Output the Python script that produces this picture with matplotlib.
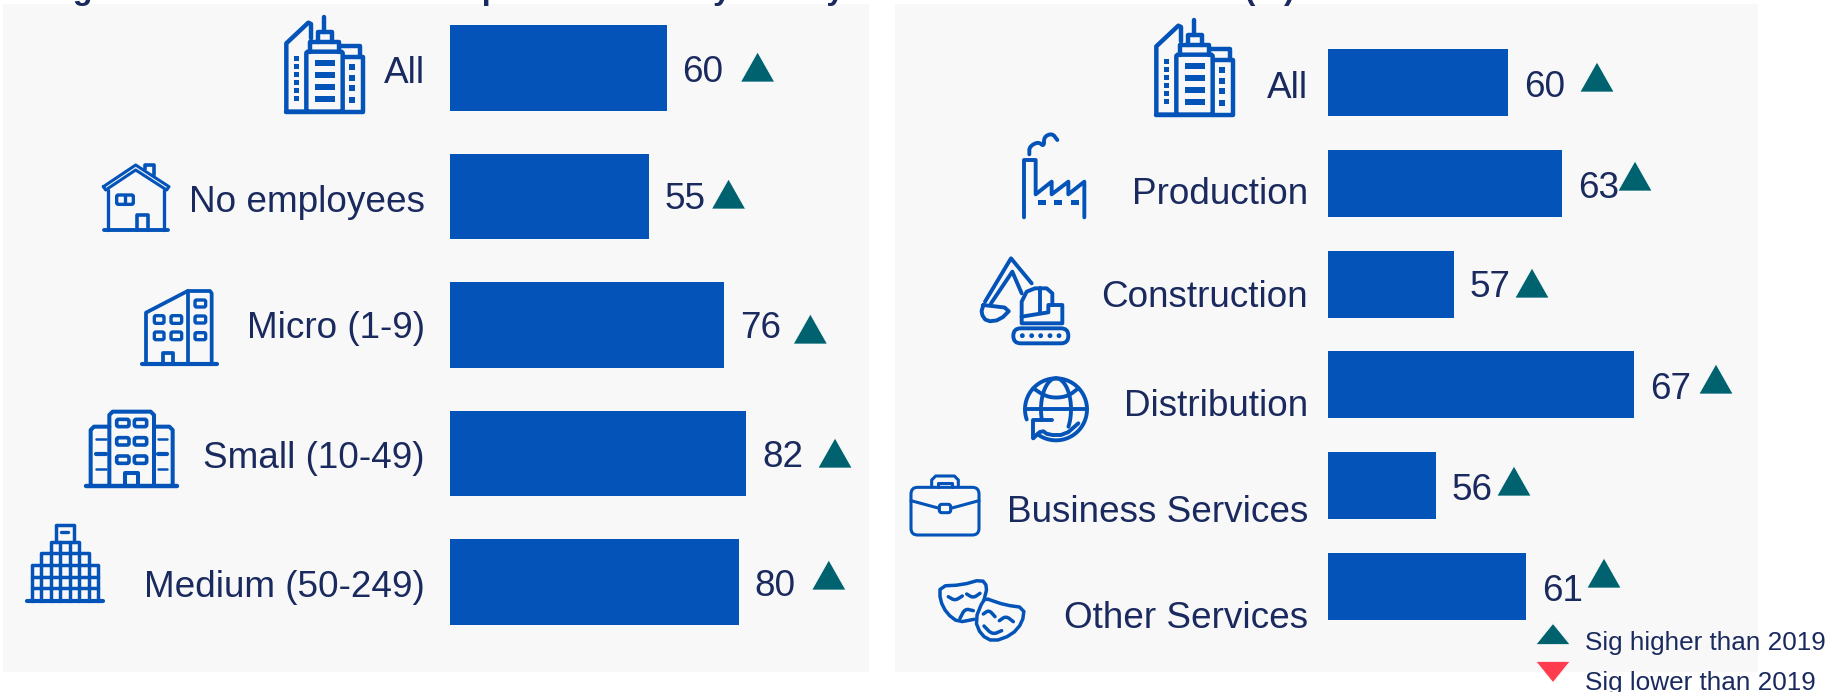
import numpy as np
import matplotlib
matplotlib.use("Agg")
import matplotlib.pyplot as plt
from matplotlib.patches import Polygon, Rectangle, FancyBboxPatch, Circle

plt.rcParams["font.family"] = ["Liberation Sans", "DejaVu Sans"]

# data
title = "Sought external finance in the previous three years by business size and sector (%)"
size_labels = ["All", "No employees", "Micro (1-9)", "Small (10-49)", "Medium (50-249)"]
size_values = [60, 55, 76, 82, 80]
sector_labels = ["All", "Production", "Construction", "Distribution", "Business Services", "Other Services"]
sector_values = [60, 63, 57, 67, 56, 61]
legend_labels = ["Sig higher than 2019", "Sig lower than 2019"]

# hand placed layout of the slide, in pixels from top left
size_label_base = [82.7, 211.7, 337.7, 468.5, 597]
size_value_base = [81.7, 209, 338, 466.7, 596]
size_tri_gap = [91, 80, 86, 89, 90]
size_tri_top = [52, 179, 314, 438, 560]
sector_label_base = [97.7, 204, 306.7, 415.7, 521.7, 627.8]
sector_value_base = [96.7, 198.3, 297.3, 399, 500, 601]
sector_tri_gap = [89, 73, 78, 82, 78, 78]
sector_tri_top = [62, 161, 268, 364, 466, 558]

BAR = "#0353B8"
NAVY = "#1A2A5E"
TEAL = "#00626E"
RED = "#FF3B4E"
PANEL = "#F8F8F8"
W, H = 1831, 692
FS = 26.6

fig = plt.figure(figsize=(W / 100, H / 100), dpi=100)


def full_axes(z):
    a = fig.add_axes([0, 0, 1, 1], zorder=z)
    a.set_xlim(0, W)
    a.set_ylim(H, 0)
    a.axis("off")
    a.patch.set_alpha(0)
    return a


def bar_axes(x0, x1, y0, y1, c0, step, xmin, xmax):
    a = fig.add_axes([x0 / W, 1 - y1 / H, (x1 - x0) / W, (y1 - y0) / H], zorder=1)
    a.set_xlim(xmin, xmax)
    a.set_ylim((y1 - c0) / step, (y0 - c0) / step)
    a.axis("off")
    a.patch.set_alpha(0)
    return a


bg = full_axes(0)
ov = full_axes(2)
bg.add_patch(Rectangle((3, 4), 866, 668, fc=PANEL, ec="none"))
bg.add_patch(Rectangle((895, 4), 863, 668, fc=PANEL, ec="none"))

ax1 = bar_axes(450, 869, 4, 672, 67.8, 128.6, 0, 419 / 3.61)
ax2 = bar_axes(1328, 1758, 4, 672, 82.8, 100.7, 50, 50 + 430 / 18)


def triangle(cx, top, w=34, h=30, color=TEAL, down=False):
    if down:
        pts = [(cx - w / 2, top), (cx + w / 2, top), (cx, top + h)]
    else:
        pts = [(cx - w / 2, top + h), (cx + w / 2, top + h), (cx, top)]
    ov.add_patch(Polygon(pts, closed=True, fc=color, ec="white", lw=0.5))


def draw_panel(ax, labels, values, label_base, value_base, tri_gap, tri_top, label_right):
    ys = np.arange(len(values))
    x0 = ax.get_xlim()[0]
    ax.barh(ys, np.array(values) - x0, left=x0, height=0.665, color=BAR)
    for i, v in enumerate(values):
        end = ov.transData.inverted().transform(ax.transData.transform((v, 0)))[0]
        ov.text(label_right, label_base[i], labels[i], ha="right", va="baseline", fontsize=FS, color=NAVY)
        ov.text(end + 16, value_base[i], str(v), ha="left", va="baseline", fontsize=FS, color=NAVY)
        triangle(end + tri_gap[i], tri_top[i])


draw_panel(ax1, size_labels, size_values, size_label_base, size_value_base, size_tri_gap, size_tri_top, 425)
draw_panel(ax2, sector_labels, sector_values, sector_label_base, sector_value_base, sector_tri_gap, sector_tri_top, 1308)

ov.text(12, -1.5, title, ha="left", va="baseline", fontsize=23.2, fontweight="bold", color=NAVY)

# legend
triangle(1553, 623.5, w=34, h=21)
triangle(1553, 661.5, w=34, h=21, color=RED, down=True)
ov.text(1585, 650, legend_labels[0], ha="left", va="baseline", fontsize=18.85, color=NAVY)
ov.text(1585, 690, legend_labels[1], ha="left", va="baseline", fontsize=18.85, color=NAVY)


# icons, coordinates come from 3x crops so everything is divided by 3
class Icon:
    def __init__(self, ox, oy, lw=3.2):
        self.ox, self.oy, self.lw = ox, oy, lw

    def xy(self, pts):
        p = np.array(pts, dtype=float)
        return p[:, 0] / 3 + self.ox, p[:, 1] / 3 + self.oy

    def line(self, pts, lw=None, smooth=0):
        p = np.array(pts, dtype=float)
        for _ in range(smooth):
            q = [p[0]]
            for a, b in zip(p[:-1], p[1:]):
                q += [0.75 * a + 0.25 * b, 0.25 * a + 0.75 * b]
            q.append(p[-1])
            p = np.array(q)
        x, y = self.xy(p)
        ov.plot(x, y, color=BAR, lw=lw or self.lw, solid_capstyle="round", solid_joinstyle="round")

    def box(self, x0, y0, x1, y1, fill=False, r=0, lw=None):
        x, y = self.xy([(x0, y0)])
        if r:
            ov.add_patch(FancyBboxPatch((x[0] + r / 3, y[0] + r / 3), (x1 - x0 - 2 * r) / 3, (y1 - y0 - 2 * r) / 3,
                                        boxstyle="round,pad=%f,rounding_size=%f" % (r / 3, r / 3),
                                        fc=BAR if fill else "none", ec=BAR, lw=lw or self.lw))
        else:
            ov.add_patch(Rectangle((x[0], y[0]), (x1 - x0) / 3, (y1 - y0) / 3, fc=BAR if fill else "none",
                                   ec=BAR if not fill else "none", lw=lw or self.lw))

    def arc(self, cx, cy, rx, ry, a0, a1, lw=None):
        t = np.radians(np.linspace(a0, a1, 80))
        self.line(np.c_[cx + rx * np.cos(t), cy + ry * np.sin(t)], lw=lw)


def icon_all(ox, oy):
    ic = Icon(ox, oy)
    ic.line([(632, 305), (574, 305), (574, 100), (640, 38), (648, 42), (648, 85)])
    ic.line([(574, 305), (805, 305), (805, 140), (745, 140)])
    ic.box(634, 125, 743, 305, r=6)
    ic.line([(645, 125), (645, 97), (733, 97), (733, 125)])
    ic.line([(668, 97), (668, 65), (710, 65), (710, 97)])
    ic.line([(688, 65), (688, 22)])
    ic.line([(738, 108), (795, 108), (795, 140)])
    for y in [150, 186, 222, 258]:
        ic.box(660, y, 720, y + 17, fill=True)
    for y in [138, 162, 187, 210, 235, 258]:
        ic.box(597, y, 612, y + 15, fill=True)
    for y in [162, 195, 225, 260]:
        ic.box(762, y, 780, y + 18, fill=True)


def icon_house(ox, oy):
    ic = Icon(ox, oy, lw=2.4)
    ic.line([(25, 530), (122, 465), (222, 530), (215, 540), (122, 480), (32, 540), (25, 530)], lw=2.2)
    ic.line([(150, 478), (150, 465), (177, 465), (177, 495)], lw=2.6)
    ic.line([(38, 540), (38, 660)])
    ic.line([(208, 540), (208, 660)])
    ic.line([(27, 660), (220, 660)], lw=2.8)
    ic.line([(125, 660), (125, 614), (160, 614), (160, 660)], lw=2.6)
    ic.box(65, 555, 115, 583, r=5)
    ic.line([(90, 555), (90, 583)])


def icon_micro(ox, oy):
    ic = Icon(ox, oy, lw=2.7)
    ic.line([(140, 1062), (365, 1062)], lw=3)
    ic.line([(153, 1062), (153, 908), (278, 843), (345, 843), (350, 850), (350, 1062)])
    ic.line([(280, 843), (280, 1062)])
    ic.line([(203, 1062), (203, 1028), (233, 1028), (233, 1062)])
    for x0, x1 in [(178, 207), (228, 260)]:
        for y in [917, 966]:
            ic.box(x0, y, x1, y + 23, r=5, lw=2.4)
    for y in [870, 918, 968]:
        ic.box(300, y, 332, y + 21, r=5, lw=2.4)


def icon_small(ox, oy):
    ic = Icon(ox, oy, lw=2.9)
    ic.line([(198, 258), (472, 258)], lw=3.2)
    ic.line([(268, 258), (268, 45), (278, 35), (392, 35), (402, 45), (402, 258)])
    ic.line([(268, 80), (222, 80), (212, 90), (212, 258)])
    ic.line([(402, 80), (448, 80), (458, 90), (458, 258)])
    ic.line([(315, 258), (315, 218), (355, 218), (355, 258)])
    for x0 in [290, 343]:
        for y in [58, 113, 168]:
            ic.box(x0, y, x0 + 37, y + 22, r=6, lw=2.6)
    for x0 in [228, 413]:
        ic.line([(x0, 118), (x0 + 29, 118)], lw=1.8)
        ic.line([(x0, 163), (x0 + 29, 163)], lw=3)
        ic.line([(x0, 208), (x0 + 29, 208)], lw=1.8)


def icon_medium(ox, oy):
    ic = Icon(ox, oy, lw=2.5)
    ic.line([(22, 603), (248, 603)], lw=3)
    ic.line([(35, 603), (35, 495), (62, 495), (62, 460), (92, 460), (92, 425), (107, 425), (107, 375),
             (163, 375), (163, 425), (178, 425), (178, 460), (207, 460), (207, 495), (235, 495), (235, 603)])
    ic.line([(122, 395), (145, 395)], lw=2.4)
    ic.line([(107, 425), (163, 425)])
    ic.line([(92, 460), (178, 460)])
    ic.line([(62, 495), (207, 495)])
    ic.line([(35, 530), (235, 530)])
    ic.line([(35, 565), (235, 565)])
    for x, top in [(62, 495), (92, 460), (120, 425), (150, 425), (178, 460), (207, 495)]:
        ic.line([(x, top), (x, 603)])


def icon_factory(ox, oy):
    ic = Icon(ox, oy, lw=2.8)
    ic.line([(147, 277), (147, 105), (182, 105), (182, 208), (230, 170), (230, 208), (280, 170), (280, 208),
             (328, 170), (328, 277)])
    ic.line([(163, 88), (163, 65), (190, 50), (207, 65), (207, 35), (232, 25), (247, 45)], smooth=2)
    for x in [190, 238, 288]:
        ic.box(x, 225, x + 24, 240, fill=True)


def icon_digger(ox, oy):
    ic = Icon(ox, oy, lw=2.8)
    ic.line([(170, 475), (108, 400), (30, 530)])
    ic.line([(140, 505), (112, 440), (48, 535)])
    ic.line([(25, 540), (110, 550), (75, 585), (35, 590), (18, 565), (25, 540)], smooth=1)
    ic.line([(140, 575), (140, 530), (155, 500), (180, 490), (215, 490), (232, 505), (232, 540), (262, 540),
             (262, 595), (140, 595), (140, 575)])
    ic.line([(195, 490), (195, 565)])
    ic.line([(140, 575), (220, 562), (220, 540), (232, 540)])
    ic.box(115, 610, 280, 655, r=22)
    for x in [142, 170, 197, 225, 252]:
        px, py = ic.xy([(x, 632)])
        ov.add_patch(Circle((px[0], py[0]), 2.4, fc=BAR, ec="none"))


def icon_globe(ox, oy):
    ic = Icon(ox, oy, lw=2.8)
    ic.arc(453, 118, 93, 93, 161, 487)
    ic.line([(360, 118), (547, 118)])
    ic.arc(453, 118, 45, 93, 160, 270)
    ic.arc(453, 118, 45, 93, -90, 34)
    ic.line([(385, 55), (420, 78), (453, 84), (490, 78), (520, 55)], smooth=2)
    ic.line([(385, 205), (385, 150), (440, 150)])
    ic.line([(385, 205), (410, 180), (430, 195), (480, 195), (520, 160)], smooth=1)


def icon_case(ox, oy):
    ic = Icon(ox, oy, lw=2.2)
    ic.box(18, 352, 222, 495, r=20)
    ic.line([(80, 350), (80, 330), (92, 318), (148, 318), (160, 330), (160, 350)])
    ic.line([(100, 350), (100, 340), (140, 340), (140, 350)])
    ic.line([(18, 392), (103, 415)])
    ic.line([(137, 415), (222, 392)])
    ic.box(103, 403, 137, 428, r=7)


def icon_masks(ox, oy):
    ic = Icon(ox, oy, lw=2.5)
    ic.line([(237, 690), (247, 650), (230, 628), (170, 645), (105, 648), (105, 690), (125, 730), (160, 757),
             (207, 748)], smooth=1)
    ic.line([(250, 688), (300, 705), (358, 713), (352, 758), (320, 795), (265, 815), (228, 795), (210, 750),
             (235, 688), (250, 688)], smooth=1)
    ic.line([(130, 680), (150, 692), (172, 678)], smooth=2)
    ic.line([(185, 672), (205, 684), (225, 670)], smooth=2)
    ic.line([(165, 745), (180, 716), (205, 722)], smooth=2)
    ic.line([(235, 732), (252, 720), (270, 740)], smooth=2)
    ic.line([(283, 752), (303, 738), (325, 755)], smooth=2)
    ic.line([(237, 768), (262, 794), (290, 782)], smooth=2)


icon_all(95, 10)
icon_house(95, 10)
icon_micro(95, 10)
icon_small(20, 400)
icon_medium(20, 400)
icon_all(965, 13)
icon_factory(975, 125)
icon_digger(975, 125)
icon_globe(905, 370)
icon_case(905, 370)
icon_masks(905, 370)

ov.set_xlim(0, W)
ov.set_ylim(H, 0)

fig.savefig("out.png", dpi=100)
plt.close(fig)
